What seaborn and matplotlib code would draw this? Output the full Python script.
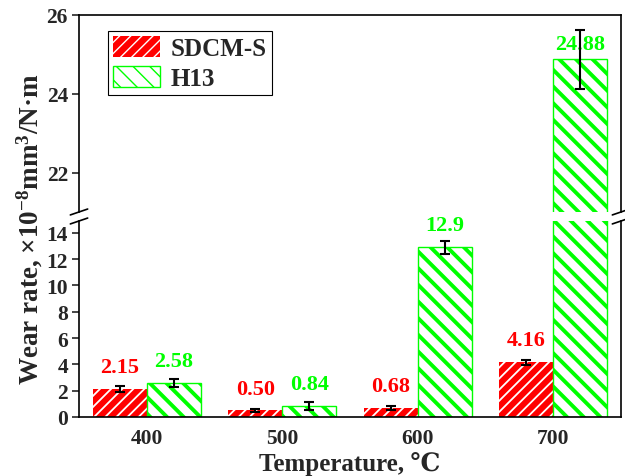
import numpy as np
import pandas as pd
import matplotlib
matplotlib.use("Agg")
import matplotlib.pyplot as plt
import matplotlib.patches as mpatches
import seaborn as sns

# data
temps = ["400", "500", "600", "700"]
sdcm = [2.15, 0.50, 0.68, 4.16]
h13 = [2.58, 0.84, 12.9, 24.88]
sdcm_err = [0.22, 0.13, 0.12, 0.20]
h13_err = [0.32, 0.28, 0.48, 0.75]
labels_sdcm = ["2.15", "0.50", "0.68", "4.16"]
labels_h13 = ["2.58", "0.84", "12.9", "24.88"]

df = pd.DataFrame({
    "Temperature": temps * 2,
    "Wear": sdcm + h13,
    "Steel": ["SDCM-S"] * 4 + ["H13"] * 4,
})
errs = {"SDCM-S": sdcm_err, "H13": h13_err}
texts = {"SDCM-S": labels_sdcm, "H13": labels_h13}

RED = "#ff0000"
GREEN = "#00ff00"

sns.set_style("ticks")
plt.rcParams["font.family"] = ["Liberation Serif", "DejaVu Serif", "Noto Sans CJK SC"]
plt.rcParams["font.weight"] = "bold"
plt.rcParams["mathtext.fontset"] = "custom"
plt.rcParams["mathtext.rm"] = "Liberation Serif:bold"
plt.rcParams["mathtext.it"] = "Liberation Serif:bold"
plt.rcParams["mathtext.bf"] = "Liberation Serif:bold"

fig = plt.figure(figsize=(6.25, 4.77), dpi=100)
ax_top = fig.add_axes([0.1264, 0.5535, 0.8672, 0.4130])
ax_bot = fig.add_axes([0.1264, 0.1237, 0.8672, 0.4109])


def style_bars(ax):
    # red: red fill with thin white stripes, green: white fill with thick green stripes
    for cont, steel in zip(ax.containers, ["SDCM-S", "H13"]):
        for p in cont.patches:
            if steel == "SDCM-S":
                p.set_facecolor(RED)
                p.set_edgecolor("white")
                p.set_linewidth(0)
                p.set_hatch("///")
                if hasattr(p, "set_hatch_linewidth"):
                    p.set_hatch_linewidth(1.3)
            else:
                p.set_facecolor("white")
                p.set_edgecolor(GREEN)
                p.set_linewidth(1.0)
                p.set_hatch("\\\\")
                if hasattr(p, "set_hatch_linewidth"):
                    p.set_hatch_linewidth(2.8)


for ax in (ax_top, ax_bot):
    sns.barplot(data=df, x="Temperature", y="Wear", hue="Steel",
                hue_order=["SDCM-S", "H13"], order=temps,
                errorbar=None, width=0.8, legend=False, ax=ax)
    style_bars(ax)
    for cont, steel in zip(ax.containers, ["SDCM-S", "H13"]):
        xs = [p.get_x() + p.get_width() / 2 for p in cont.patches]
        ys = [p.get_height() for p in cont.patches]
        ax.errorbar(xs, ys, yerr=errs[steel], fmt="none", ecolor="black",
                    elinewidth=1.5, capsize=3.3, capthick=1.5, zorder=5)
    ax.set_xlim(-0.5, 3.5)
    ax.set_xlabel("")
    ax.set_ylabel("")
    for s in ax.spines.values():
        s.set_linewidth(1.2)
        s.set_color("black")
    ax.tick_params(axis="y", direction="out", length=5, width=1.2,
                   labelsize=15.5, pad=3, right=False)
    for t in ax.get_yticklabels():
        t.set_fontweight("bold")

# value labels
for cont, steel in zip(ax_bot.containers, ["SDCM-S", "H13"]):
    col = RED if steel == "SDCM-S" else GREEN
    for p, txt in zip(cont.patches, texts[steel]):
        h = p.get_height()
        if h < 20:
            ax_bot.annotate(txt, (p.get_x() + p.get_width() / 2, h),
                            xytext=(0, 8.5), textcoords="offset points",
                            ha="center", va="bottom", color=col,
                            fontsize=16, fontweight="bold", annotation_clip=False)
        else:
            ax_top.annotate(txt, (p.get_x() + p.get_width() / 2, h),
                            xytext=(0, 4), textcoords="offset points",
                            ha="center", va="bottom", color=col,
                            fontsize=16, fontweight="bold", zorder=4)

# broken axis
ax_top.set_ylim(21, 26)
ax_top.set_yticks([22, 24, 26])
ax_top.spines["bottom"].set_visible(False)
ax_top.tick_params(axis="x", bottom=False, labelbottom=False)

ax_bot.set_ylim(0, 14.9)
ax_bot.set_yticks(np.arange(0, 15, 2))
ax_bot.spines["top"].set_visible(False)
ax_bot.tick_params(axis="x", length=0, labelsize=15.5, pad=8)
for t in ax_bot.get_xticklabels():
    t.set_fontweight("bold")

d = dict(color="black", linewidth=1.2, clip_on=False)
for xc in (0, 1):
    ax_top.plot([xc - 0.016, xc + 0.016], [-0.015, 0.015], transform=ax_top.transAxes, **d)
    ax_bot.plot([xc - 0.016, xc + 0.016], [0.985, 1.015], transform=ax_bot.transAxes, **d)

# legend
h_red = mpatches.Patch(facecolor=RED, edgecolor="white", linewidth=0, hatch="///", label="SDCM-S")
h_grn = mpatches.Patch(facecolor="white", edgecolor=GREEN, linewidth=1.0, hatch="\\\\", label="H13")
if hasattr(h_red, "set_hatch_linewidth"):
    h_red.set_hatch_linewidth(1.3)
    h_grn.set_hatch_linewidth(2.8)
leg = ax_top.legend(handles=[h_red, h_grn], loc="upper left",
                    bbox_to_anchor=(0.0535, 0.919), borderaxespad=0,
                    fancybox=False, framealpha=1, edgecolor="black",
                    prop={"size": 18, "weight": "bold"},
                    handlelength=1.9, handleheight=0.9, handletextpad=0.4,
                    borderpad=0.2, labelspacing=0.25)
leg.get_frame().set_linewidth(0.8)

ax_bot.set_xlabel("Temperature, \u2103", fontsize=18, fontweight="bold", labelpad=2)
fig.text(0.048, 0.52, "Wear rate, \u00d710$^{-8}$mm$^{3}$/N\u00b7m", rotation=90,
         ha="center", va="center", fontsize=19.5, fontweight="bold")

plt.savefig("out.png", dpi=100)
